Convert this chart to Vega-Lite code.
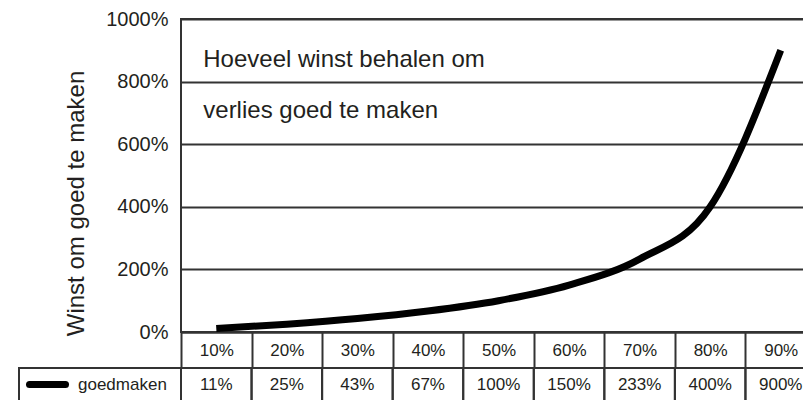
{
  "$schema": "https://vega.github.io/schema/vega-lite/v6.json",
  "background": "white",
  "padding": {"left": 18, "top": 8, "right": 0, "bottom": 0},
  "config": {
    "font": "Liberation Sans",
    "view": {"stroke": null}
  },
  "datasets": {
    "tabel": [
      {"verlies": "10%", "winst": 0.11, "reeks": "goedmaken"},
      {"verlies": "20%", "winst": 0.25, "reeks": "goedmaken"},
      {"verlies": "30%", "winst": 0.43, "reeks": "goedmaken"},
      {"verlies": "40%", "winst": 0.67, "reeks": "goedmaken"},
      {"verlies": "50%", "winst": 1.0, "reeks": "goedmaken"},
      {"verlies": "60%", "winst": 1.5, "reeks": "goedmaken"},
      {"verlies": "70%", "winst": 2.33, "reeks": "goedmaken"},
      {"verlies": "80%", "winst": 4.0, "reeks": "goedmaken"},
      {"verlies": "90%", "winst": 9.0, "reeks": "goedmaken"}
    ]
  },
  "columns": 2,
  "bounds": "flush",
  "spacing": {"row": 36, "column": 0},
  "concat": [
    {
      "data": {"values": []},
      "width": 162,
      "height": 313,
      "mark": "point"
    },
    {
      "width": 635,
      "height": 313,
      "data": {"name": "tabel"},
      "view": {"stroke": "#333333", "strokeWidth": 2},
      "layer": [
        {
          "mark": {"type": "line", "interpolate": "monotone", "strokeWidth": 7, "strokeCap": "butt"},
          "encoding": {
            "x": {
              "field": "verlies", "type": "ordinal", "sort": null,
              "scale": {"type": "band", "paddingInner": 0, "paddingOuter": 0},
              "axis": {
                "title": null, "labelAngle": 0, "domain": true, "domainColor": "#333333", "domainWidth": 2,
                "ticks": true, "tickBand": "extent", "tickSize": 36, "tickWidth": 2, "tickColor": "#333333",
                "labelPadding": -18, "labelBaseline": "middle", "labelFontSize": 17, "labelColor": "#231f20",
                "grid": false
              }
            },
            "y": {
              "field": "winst", "type": "quantitative",
              "scale": {"domain": [0, 10], "nice": false},
              "axis": {
                "values": [0, 2, 4, 6, 8, 10], "format": ".0%",
                "grid": true, "gridColor": "#333333", "gridWidth": 2,
                "ticks": false, "domain": false,
                "labelFontSize": 20, "labelColor": "#231f20", "labelPadding": 13,
                "title": "Winst om goed te maken", "titleFontSize": 24, "titleFontWeight": "normal",
                "titleColor": "#231f20", "titlePadding": 17, "titleY": 184
              }
            },
            "color": {
              "field": "reeks", "type": "nominal",
              "scale": {"range": ["#000000"]},
              "legend": {
                "orient": "none", "legendX": 7, "legendY": 344, "title": null, "padding": 0,
                "symbolType": "stroke", "symbolSize": 1296, "symbolStrokeWidth": 7,
                "labelFontSize": 17, "labelColor": "#231f20", "labelOffset": 9,
                "encode": {"symbols": {"update": {"strokeCap": {"value": "round"}}}}
              }
            }
          }
        },
        {
          "data": {"values": [{"regel": "Hoeveel winst behalen om"}]},
          "mark": {"type": "text", "align": "left", "baseline": "alphabetic", "fontSize": 24, "dx": -13, "color": "#231f20"},
          "encoding": {
            "x": {"datum": "10%", "type": "ordinal"},
            "y": {"datum": 8.48, "type": "quantitative"},
            "text": {"field": "regel"}
          }
        },
        {
          "data": {"values": [{"regel": "verlies goed te maken"}]},
          "mark": {"type": "text", "align": "left", "baseline": "alphabetic", "fontSize": 24, "dx": -13, "color": "#231f20"},
          "encoding": {
            "x": {"datum": "10%", "type": "ordinal"},
            "y": {"datum": 6.85, "type": "quantitative"},
            "text": {"field": "regel"}
          }
        }
      ]
    },
    {
      "data": {"values": []},
      "width": 162,
      "height": 34,
      "view": {"stroke": "#333333", "strokeWidth": 2},
      "mark": "point"
    },
    {
      "width": 635,
      "height": 34,
      "data": {"name": "tabel"},
      "view": {"stroke": "#333333", "strokeWidth": 2},
      "layer": [
        {
          "mark": {"type": "rect", "fill": null, "stroke": "#333333", "strokeWidth": 2},
          "encoding": {
            "x": {"field": "verlies", "type": "ordinal", "sort": null,
                  "scale": {"type": "band", "paddingInner": 0, "paddingOuter": 0}, "axis": null}
          }
        },
        {
          "mark": {"type": "text", "fontSize": 17, "color": "#231f20", "baseline": "middle"},
          "encoding": {
            "x": {"field": "verlies", "type": "ordinal", "sort": null, "axis": null},
            "text": {"field": "winst", "type": "quantitative", "format": ".0%"}
          }
        }
      ]
    }
  ]
}
